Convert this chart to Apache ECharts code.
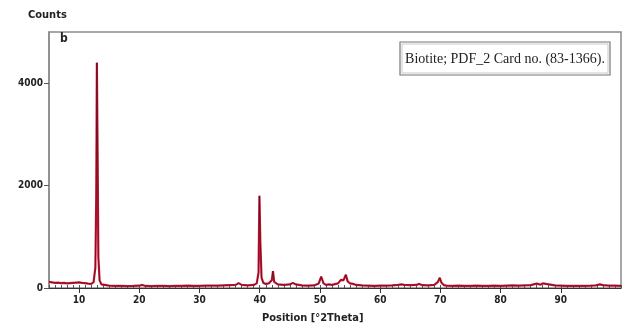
<!DOCTYPE html>
<html><head><meta charset="utf-8">
<script src="https://cdn.jsdelivr.net/npm/echarts@6/dist/echarts.min.js"></script>
<style>html,body{margin:0;padding:0;background:#fff}#c{width:623px;height:327px}</style>
</head><body><div id="c"></div>
<script>
const twoTheta = [5,5.5,6,6.5,7,7.5,8,8.5,9,9.5,10,10.5,11,11.5,12,12.4,12.7,12.85,12.95,13.05,13.2,13.4,13.7,14,15,16,17,18,19,20,20.5,21,22,23,24,25,26,27,28,29,30,31,32,33,34,35,36,36.5,37,38,39,39.5,39.8,39.95,40.1,40.3,40.6,41,41.5,42,42.2,42.4,43,44,45,45.5,46,47,48,49,49.8,50.2,50.6,51,51.5,52,53,53.5,53.9,54.3,54.6,55,55.5,56,57,58,59,60,61,62,63,63.5,64,65,66,66.5,67,68,69,69.6,69.9,70.2,70.6,71,72,73,74,75,76,77,78,79,80,81,82,83,84,85,85.5,86,86.6,87,88,89,90,91,92,93,94,95,95.8,96.5,97,98,99,100];
const counts = [120,110,100,105,95,100,90,95,100,105,110,100,95,85,80,110,400,1800,4400,3000,600,150,70,50,45,40,42,38,40,45,60,40,38,40,42,38,40,42,45,40,42,45,48,45,50,55,60,95,60,50,60,90,300,1800,900,200,100,80,90,150,330,120,70,60,70,100,70,50,45,50,90,220,90,60,70,60,90,160,150,260,130,90,80,60,50,45,40,45,45,50,60,70,60,55,60,80,55,50,60,120,200,100,55,45,42,45,40,42,45,40,42,45,40,45,50,45,50,55,70,85,65,90,70,50,45,40,42,40,42,45,50,70,55,45,45,42,45];
const xTickLabels = [10,20,30,40,50,60,70,80,90];
const yTickLabels = [0,2000,4000];
const minorTicks = [];
for (let v = 5; v <= 100; v++) minorTicks.push(v);

const data = twoTheta.map((t,i)=>[t,counts[i]]);
const font = "'DejaVu Sans Condensed','Liberation Sans Narrow','Liberation Sans',sans-serif";
const chart = echarts.init(document.getElementById('c'));
chart.setOption({
  animation:false,
  grid:{left:49,right:2,top:32,bottom:39,show:true,borderColor:'#8a8a8a',borderWidth:1.5},
  xAxis:[{
    type:'value',min:5,max:100,
    axisLine:{show:true,lineStyle:{color:'#333',width:1}},
    axisTick:{show:true,customValues:xTickLabels,length:5,lineStyle:{color:'#333'}},
    axisLabel:{customValues:xTickLabels,formatter:v=>String(v),fontFamily:font,fontWeight:'bold',fontSize:10,color:'#222',margin:7},
    splitLine:{show:false}
  },{
    type:'value',min:5,max:100,position:'bottom',
    axisLine:{show:false},
    axisTick:{show:true,customValues:minorTicks,inside:true,length:3,lineStyle:{color:'#555'}},
    axisLabel:{show:false},splitLine:{show:false}
  }],
  yAxis:{
    type:'value',min:0,max:5000,
    axisLine:{show:true,lineStyle:{color:'#8a8a8a',width:1.5}},
    axisTick:{show:true,customValues:yTickLabels,length:5,lineStyle:{color:'#555'}},
    axisLabel:{customValues:yTickLabels,formatter:v=>String(v),fontFamily:font,fontWeight:'bold',fontSize:10,color:'#222',margin:6},
    splitLine:{show:false}
  },
  series:[
    {type:'line',data:data,showSymbol:false,lineStyle:{color:'#d01a3a',width:2.2}},
    {type:'line',data:data,showSymbol:false,lineStyle:{color:'#5a0a16',width:0.7}}
  ],
  graphic:[
    {type:'text',left:28,top:10,style:{text:'Counts',font:"bold 11px "+font,fill:'#222'}},
    {type:'text',left:60,top:33,style:{text:'b',font:"bold 12px "+font,fill:'#222'}},
    {type:'text',left:262,top:313,style:{text:'Position [°2Theta]',font:"bold 11px "+font,fill:'#222'}},
    {type:'rect',shape:{x:400,y:42,width:210,height:33},style:{fill:'#fff',stroke:'#777',lineWidth:1.2}},
    {type:'rect',shape:{x:402,y:44,width:206,height:29},style:{fill:'none',stroke:'#bbb',lineWidth:0.8}},
    {type:'text',x:505,y:59,style:{text:'Biotite; PDF_2 Card no. (83-1366).',font:"14px 'Liberation Serif','Times New Roman',serif",fill:'#222',align:'center',verticalAlign:'middle'}}
  ]
});
</script></body></html>
